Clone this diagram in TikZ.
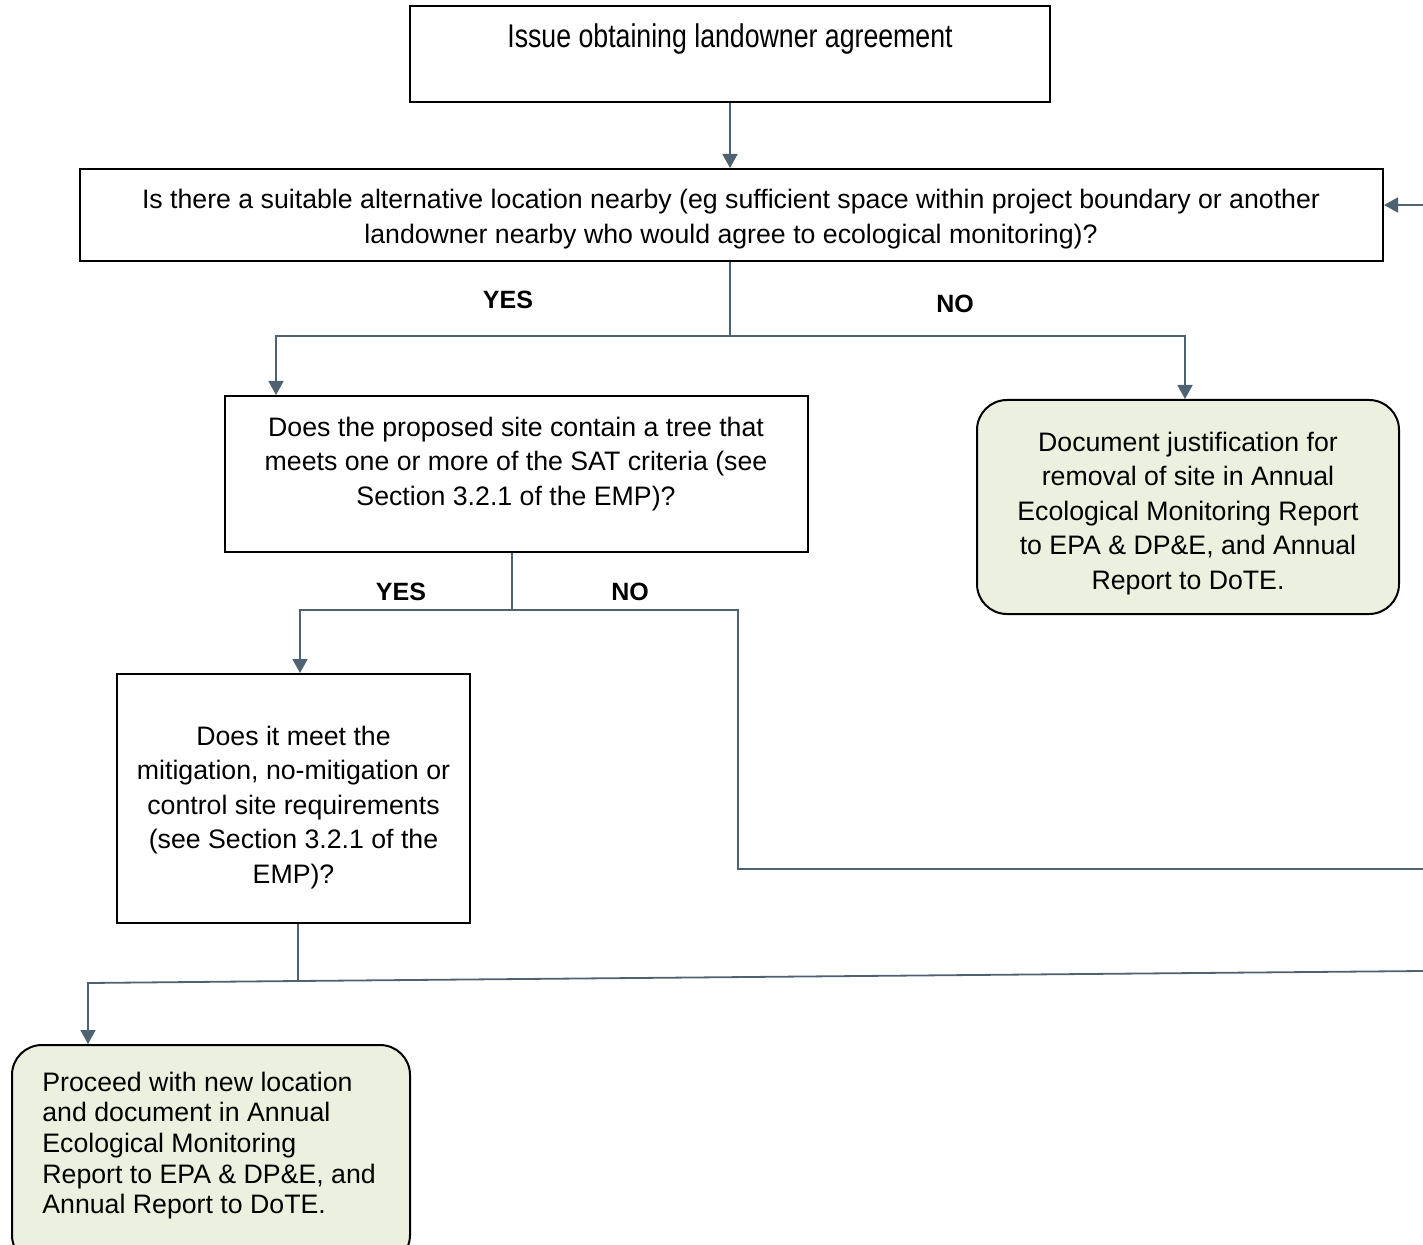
\documentclass[tikz,border=0pt]{standalone}
\usepackage{fontspec}
\setmainfont{Liberation Sans}
\usetikzlibrary{arrows.meta,positioning,calc}

\definecolor{linegrey}{HTML}{4F6272}
\definecolor{boxgreen}{HTML}{EBF1DE}

\tikzset{
  box/.style = {draw = black, line width = 1pt, rectangle, inner sep = 0pt},
  greenbox/.style = {box, fill = boxgreen, rounded corners = 15pt},
  boxtext/.style = {align = center, inner sep = 0pt, font = \fontsize{13.35}{17.25}\selectfont},
  conn/.style = {draw = linegrey, line width = 0.9pt},
  arr/.style = {conn, -{Triangle[length = 7pt, width = 7.5pt]}},
  answer/.style = {inner sep = 0pt, font = \fontsize{12.5}{15}\selectfont\bfseries}
}

\begin{document}
\begin{tikzpicture}[x = 0.5pt, y = -0.5pt]

        % fix the page size
        \useasboundingbox (0,0) rectangle (1423,1245);

        % draw the boxes
        \node[box, minimum width = 320pt, minimum height = 48pt] (issue) at (730,54) {};
        \node[boxtext] (issue_text) at (730,39) {\scalebox{1}[1.23]{Issue obtaining landowner agreement}};

        \node[box, minimum width = 651.5pt, minimum height = 46pt] (alt) at (731.5,215) {};
        \node[boxtext] (alt_text) at (731,219) {Is there a suitable alternative location nearby (eg sufficient space within project boundary or another\\ landowner nearby who would agree to ecological monitoring)?};

        \node[box, minimum width = 291.5pt, minimum height = 78pt] (sat) at (516.5,474) {};
        \node[boxtext] (sat_text) at (516,464) {Does the proposed site contain a tree that\\ meets one or more of the SAT criteria (see\\ Section 3.2.1 of the EMP)?};

        \node[greenbox, minimum width = 211pt, minimum height = 107pt] (justify) at (1188,507) {};
        \node[boxtext] (justify_text) at (1188,513.5) {Document justification for\\ removal of site in Annual\\ Ecological Monitoring Report\\ to EPA \& DP\&E, and Annual\\ Report to DoTE.};

        \node[box, minimum width = 176.5pt, minimum height = 124.5pt] (meet) at (293.5,798.5) {};
        \node[boxtext] (meet_text) at (293.5,807.5) {Does it meet the\\ mitigation, no-mitigation or\\ control site requirements\\ (see Section 3.2.1 of the\\ EMP)?};

        \node[greenbox, minimum width = 199pt, minimum height = 110pt] (proceed) at (211,1155) {};
        \node[boxtext, align = left, anchor = west, font = \fontsize{13.35}{15.35}\selectfont] (proceed_text) at (42,1145.5) {Proceed with new location\\ and document in Annual\\ Ecological Monitoring\\ Report to EPA \& DP\&E, and\\ Annual Report to DoTE.};

        % junction points
        \coordinate (split_a) at (730,336);
        \coordinate (yes_a) at (276,336);
        \coordinate (split_b) at (512,610);
        \coordinate (yes_b) at (300,610);
        \coordinate (no_b) at (738,610);
        \coordinate (loop_b) at (1423,869);
        \coordinate (split_c) at (298,981);
        \coordinate (yes_c) at (88,983);
        \coordinate (loop_c) at (1423,971);
        \coordinate (loop_in) at (1423,205);
        \coordinate (no_a) at (1185,336);

        % draw the connectors
        \draw[arr] (issue.south) -- (issue.south |- alt.north);
        \draw[arr] (loop_in) -- (loop_in -| alt.east);
        \draw[conn] (split_a |- alt.south) -- (split_a);
        \draw[arr] (split_a) -- (yes_a) -- (yes_a |- sat.north);
        \draw[arr] (split_a) -- (no_a) -- (no_a |- justify.north);
        \draw[conn] (split_b |- sat.south) -- (split_b);
        \draw[arr] (split_b) -- (yes_b) -- (yes_b |- meet.north);
        \draw[conn] (split_b) -- (no_b) |- (loop_b);
        \draw[conn] (split_c |- meet.south) -- (split_c);
        \draw[conn] (split_c) -- (loop_c);
        \draw[arr] (split_c) -- (yes_c) -- (yes_c |- proceed.north);

        % draw the answers
        \node[answer] (yes_top) at (508,300) {YES};
        \node[answer] (no_top) at (955,304) {NO};
        \node[answer] (yes_mid) at (401,592) {YES};
        \node[answer] (no_mid) at (630,592) {NO};

\end{tikzpicture}
\end{document}
